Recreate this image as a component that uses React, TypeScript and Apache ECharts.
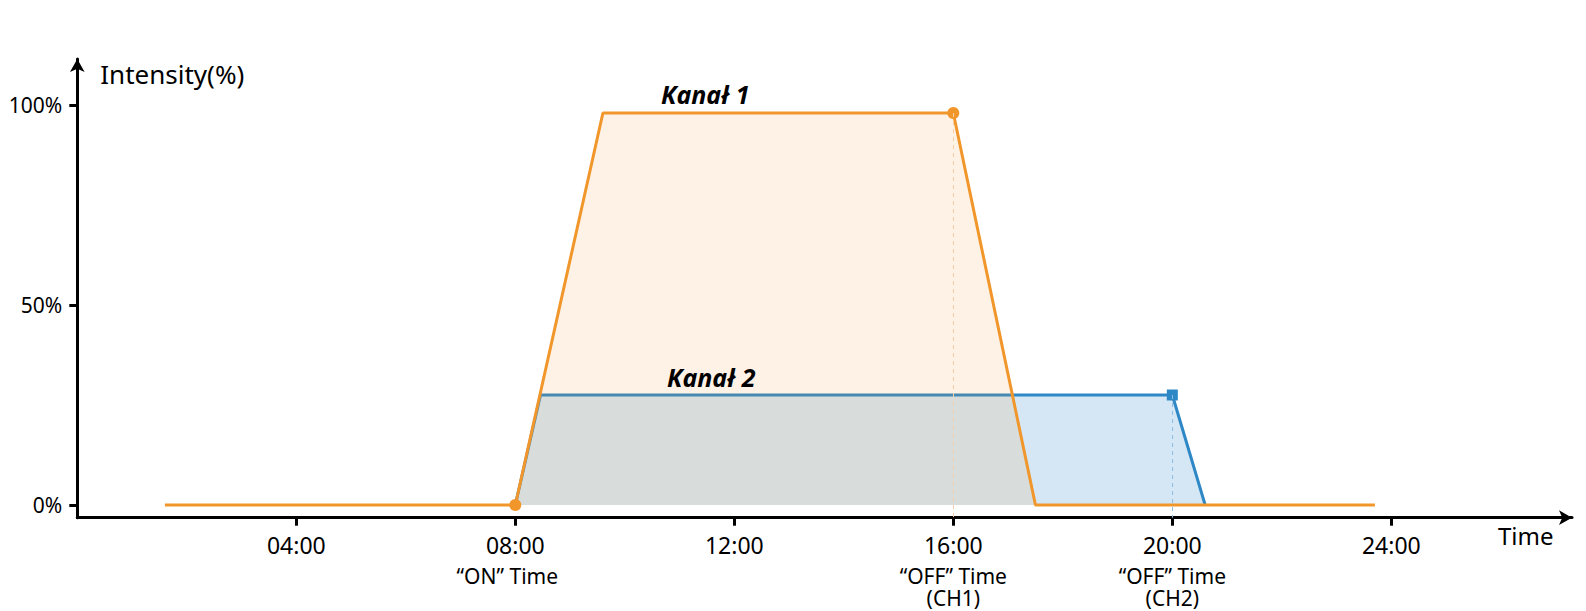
import React, { useEffect, useRef } from "react";
import * as echarts from "echarts";

// ---- data ----
const ch1Hours = [1.6, 8, 9.6, 16, 17.5, 23.7];
const ch1Values = [0, 0, 98, 98, 0, 0];
const ch1MarkerIdx = [1, 3];

const ch2Hours = [8, 8.46, 20, 20.6];
const ch2Values = [0, 27.5, 27.5, 0];
const ch2MarkerIdx = [2];

const channelNames = ["Kanał 1", "Kanał 2"];
const channelLabelHours = [11.47, 11.58];

const xTicks = [4, 8, 12, 16, 20, 24];
const xTickLabels = ["04:00", "08:00", "12:00", "16:00", "20:00", "24:00"];
const xSubLabels = ["", "“ON” Time", "", "“OFF” Time\n(CH1)", "“OFF” Time\n(CH2)", ""];

const yTicks = [0, 50, 100];
const yTickLabels = ["0%", "50%", "100%"];

const xAxisTitle = "Time";
const yAxisTitle = "Intensity(%)";

const xMin = 0;
const xMax = 27.3;
const yMin = -3.175;
const yMax = 111.5;

const ORANGE = "#F1962A";
const BLUE = "#2F88C6";
const FONT = "Noto Sans";

export default function App() {
  const ref = useRef<HTMLDivElement>(null);

  useEffect(() => {
    if (!ref.current) return;
    const chart = echarts.init(ref.current, undefined, { renderer: "svg" });

    const ch1Data = ch1Hours.map((h, i) =>
      ch1MarkerIdx.includes(i)
        ? { value: [h, ch1Values[i]], symbol: "circle", symbolSize: 12 }
        : { value: [h, ch1Values[i]], symbol: "none" }
    );
    const ch2Data = ch2Hours.map((h, i) =>
      ch2MarkerIdx.includes(i)
        ? { value: [h, ch2Values[i]], symbol: "rect", symbolSize: 11 }
        : { value: [h, ch2Values[i]], symbol: "none" }
    );

    const off1 = ch1Hours[ch1MarkerIdx[1]];
    const off1V = ch1Values[ch1MarkerIdx[1]];
    const off2 = ch2Hours[ch2MarkerIdx[0]];
    const off2V = ch2Values[ch2MarkerIdx[0]];

    const channelLabel = (text: string, offY: number) => ({
      show: true,
      formatter: text,
      position: "inside",
      offset: [0, offY],
      fontFamily: FONT,
      fontSize: 25,
      fontStyle: "italic",
      fontWeight: "bold",
      color: "#000",
    });

    const option: any = {
      animation: false,
      textStyle: { fontFamily: FONT, color: "#000" },
      grid: {
        left: 77.3,
        right: 14,
        top: 59,
        bottom: 611 - 517.7,
        outerBoundsMode: "none",
      },
      graphic: [
        {
          type: "text",
          x: 1498,
          y: 535,
          silent: true,
          style: {
            text: xAxisTitle,
            fontFamily: FONT,
            fontSize: 24,
            fill: "#000",
            align: "left",
            verticalAlign: "middle",
          },
        },
      ],
      xAxis: {
        type: "value",
        min: xMin,
        max: xMax,
        axisLine: {
          show: true,
          onZero: false,
          symbol: ["none", "arrow"],
          symbolSize: [11, 13],
          lineStyle: { color: "#000", width: 3 },
        },
        axisTick: {
          show: true,
          customValues: xTicks,
          length: 8,
          lineStyle: { color: "#000", width: 3 },
        },
        axisLabel: {
          show: true,
          customValues: xTicks,
          margin: 6,
          formatter: (v: number) => {
            const i = xTicks.findIndex((t) => Math.abs(t - v) < 1e-6);
            if (i < 0) return "";
            let s = `{a|${xTickLabels[i]}}`;
            if (xSubLabels[i]) {
              const lines = xSubLabels[i].split("\n");
              const style = lines.length === 1 ? "c" : "b";
              s += lines.map((l) => `\n{${style}|${l}}`).join("");
            }
            return s;
          },
          rich: {
            a: { fontFamily: FONT, fontSize: 23, lineHeight: 42, color: "#000" },
            b: { fontFamily: FONT, fontSize: 21, lineHeight: 21.5, color: "#000" },
            c: { fontFamily: FONT, fontSize: 21, lineHeight: 21.5, color: "#000", padding: [0, 16, 0, 0] },
          },
        },
        splitLine: { show: false },
      },
      yAxis: {
        type: "value",
        min: yMin,
        max: yMax,
        name: yAxisTitle,
        nameLocation: "end",
        nameGap: -15,
        nameMoveOverlap: false,
        nameTextStyle: {
          fontFamily: FONT,
          fontSize: 26,
          color: "#000",
          align: "left",
          verticalAlign: "middle",
          padding: [0, 0, 0, 23],
        },
        axisLine: {
          show: true,
          onZero: false,
          symbol: ["none", "arrow"],
          symbolSize: [11, 13],
          lineStyle: { color: "#000", width: 3 },
        },
        axisTick: {
          show: true,
          customValues: yTicks,
          length: 8,
          lineStyle: { color: "#000", width: 3 },
        },
        axisLabel: {
          show: true,
          customValues: yTicks,
          margin: 15,
          fontFamily: FONT,
          fontSize: 21,
          color: "#000",
          formatter: (v: number) => {
            const i = yTicks.findIndex((t) => Math.abs(t - v) < 1e-6);
            return i < 0 ? "" : yTickLabels[i];
          },
        },
        splitLine: { show: false },
      },
      series: [
        {
          name: channelNames[1],
          type: "line",
          data: ch2Data,
          showSymbol: true,
          symbol: "none",
          lineStyle: { color: BLUE, width: 3 },
          itemStyle: { color: BLUE },
          areaStyle: { color: BLUE, opacity: 0.2, origin: "auto" },
          z: 2,
          silent: true,
          markLine: {
            silent: true,
            symbol: ["none", "none"],
            label: { show: false },
            lineStyle: { color: "#8dbde3", width: 1, type: [4, 4] },
            data: [[{ coord: [off2, off2V] }, { coord: [off2, yMin] }]],
          },
          markPoint: {
            silent: true,
            symbol: "circle",
            symbolSize: 0,
            data: [
              {
                coord: [channelLabelHours[1], ch2Values[1]],
                label: channelLabel(channelNames[1], -18),
              },
            ],
          },
        },
        {
          name: channelNames[0],
          type: "line",
          data: ch1Data,
          showSymbol: true,
          symbol: "none",
          lineStyle: { color: ORANGE, width: 3 },
          itemStyle: { color: ORANGE },
          areaStyle: { color: ORANGE, opacity: 0.12, origin: "auto" },
          z: 3,
          silent: true,
          markLine: {
            silent: true,
            symbol: ["none", "none"],
            label: { show: false },
            lineStyle: { color: "#f5cfa3", width: 1, type: [4, 4] },
            data: [[{ coord: [off1, off1V] }, { coord: [off1, yMin] }]],
          },
          markPoint: {
            silent: true,
            symbol: "circle",
            symbolSize: 0,
            data: [
              {
                coord: [channelLabelHours[0], ch1Values[2]],
                label: channelLabel(channelNames[0], -19),
              },
            ],
          },
        },
      ],
    };

    chart.setOption(option);
    return () => chart.dispose();
  }, []);

  return (
    <div
      ref={ref}
      style={{ position: "absolute", left: 0, top: 0, width: 1586, height: 611, background: "#fff" }}
    />
  );
}
